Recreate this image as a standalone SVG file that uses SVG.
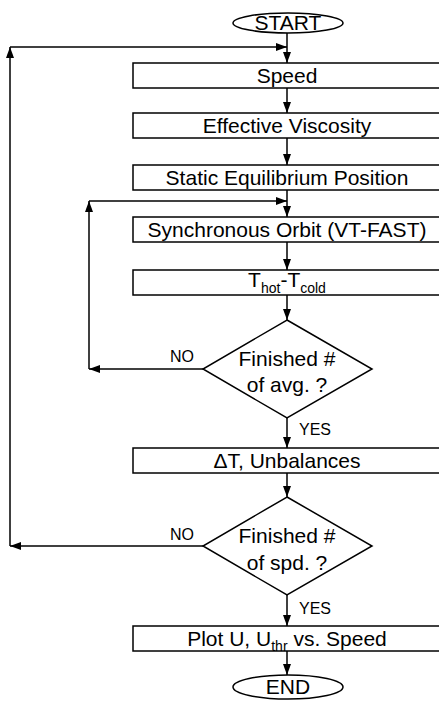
<svg xmlns="http://www.w3.org/2000/svg" width="439" height="705" viewBox="0 0 439 705">
<style>
.box{fill:#fff;stroke:#000;stroke-width:1.5}
.ln{fill:none;stroke:#000;stroke-width:1.5;marker-end:url(#ah)}
.t{font-family:"Liberation Sans",Arial,sans-serif;font-size:21px;fill:#000;text-anchor:middle}
.s{font-family:"Liberation Sans",Arial,sans-serif;font-size:16px;fill:#000}
</style>
<defs>
<marker id="ah" markerUnits="userSpaceOnUse" markerWidth="12" markerHeight="10" refX="11" refY="4" orient="auto">
<path d="M0,0 L11,4 L0,8 z" fill="#000"/>
</marker>
</defs>
<rect width="439" height="705" fill="#fff"/>
<g id="connectors">
<path class="ln" d="M287,33 L287,63"/>
<path class="ln" d="M287,88 L287,113"/>
<path class="ln" d="M287,138 L287,165"/>
<path class="ln" d="M287,190 L287,217"/>
<path class="ln" d="M287,242 L287,270"/>
<path class="ln" d="M287,295 L287,320"/>
<path class="ln" d="M287,418 L287,448"/>
<path class="ln" d="M287,473 L287,497"/>
<path class="ln" d="M287,595 L287,626"/>
<path class="ln" d="M287,651 L287,675"/>
<path class="ln" d="M203,369 L89,369"/>
<path class="ln" d="M89,369 L89,201"/>
<path class="ln" d="M89,201 L287,201"/>
<path class="ln" d="M203,546 L10,546"/>
<path class="ln" d="M10,546 L10,47"/>
<path class="ln" d="M10,47 L287,47"/>
<text class="s" x="170" y="362">NO</text>
<text class="s" x="170" y="540">NO</text>
<text class="s" x="299" y="435">YES</text>
<text class="s" x="299" y="614">YES</text>
</g>
<g id="start">
<ellipse class="box" cx="288" cy="23" rx="55" ry="10"/>
<text class="t" x="288" y="30">START</text>
</g>
<g id="speed">
<rect class="box" x="133" y="63" width="310" height="25"/>
<text class="t" x="287" y="83">Speed</text>
</g>
<g id="viscosity">
<rect class="box" x="133" y="113" width="310" height="25"/>
<text class="t" x="287" y="133">Effective Viscosity</text>
</g>
<g id="equilibrium">
<rect class="box" x="133" y="165" width="310" height="25"/>
<text class="t" x="287" y="185">Static Equilibrium Position</text>
</g>
<g id="orbit">
<rect class="box" x="133" y="217" width="310" height="25"/>
<text class="t" x="287" y="237">Synchronous Orbit (VT-FAST)</text>
</g>
<g id="thotcold">
<rect class="box" x="133" y="270" width="310" height="25"/>
<text class="t" x="287" y="287">T<tspan dy="6" font-size="14">hot</tspan><tspan dy="-6">-T</tspan><tspan dy="6" font-size="14">cold</tspan></text>
</g>
<g id="avg">
<polygon class="box" points="287,320 372,369 287,418 203,369"/>
<text class="t" x="287" y="366">Finished #</text>
<text class="t" x="287" y="392">of avg. ?</text>
</g>
<g id="unbalances">
<rect class="box" x="133" y="448" width="310" height="25"/>
<text class="t" x="287" y="468">ΔT, Unbalances</text>
</g>
<g id="spd">
<polygon class="box" points="287,497 372,546 287,595 203,546"/>
<text class="t" x="287" y="543">Finished #</text>
<text class="t" x="287" y="570">of spd. ?</text>
</g>
<g id="plot">
<rect class="box" x="133" y="626" width="310" height="25"/>
<text class="t" x="287" y="646">Plot U, U<tspan dy="5" font-size="14">thr</tspan><tspan dy="-5"> vs. Speed</tspan></text>
</g>
<g id="end">
<ellipse class="box" cx="288" cy="687" rx="55" ry="12"/>
<text class="t" x="288" y="694">END</text>
</g>
</svg>
